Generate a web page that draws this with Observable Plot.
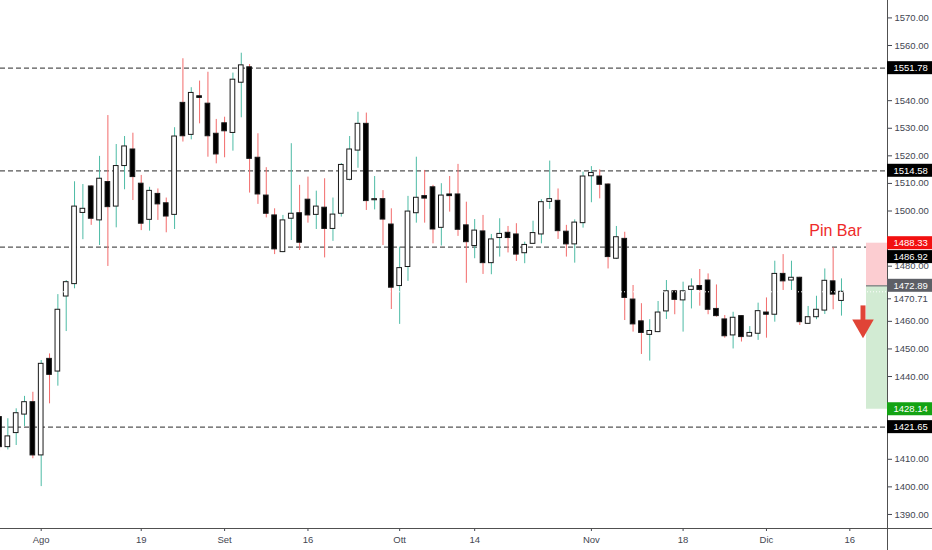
<!DOCTYPE html>
<html><head><meta charset="utf-8">
<script src="https://cdn.jsdelivr.net/npm/d3@7"></script>
<script src="https://cdn.jsdelivr.net/npm/@observablehq/plot@0.6"></script>
<style>body{margin:0;background:#fff}</style>
</head><body><div id="chart"></div>
<script>
// Daily candles, 25 Jul 2019 – 13 Dec 2019 (trading days)
const open = [1425.3,1414.4,1419.5,1426.2,1430.7,1411.4,1446.4,1441.8,1469.0,1473.5,1499.3,1508.9,1496.6,1510.5,1501.6,1516.3,1522.3,1509.9,1496.8,1506.2,1502.8,1498.6,1539.2,1527.6,1541.6,1538.9,1528.0,1531.8,1528.3,1546.5,1552.1,1519.3,1505.6,1498.4,1485.1,1497.2,1499.2,1504.1,1498.6,1501.2,1493.5,1499.0,1511.3,1521.9,1531.6,1503.9,1504.3,1495.1,1472.8,1479.7,1499.2,1505.4,1508.6,1493.9,1506.0,1506.0,1494.8,1487.3,1492.6,1481.1,1490.2,1492.1,1491.5,1484.7,1488.1,1491.5,1503.3,1503.7,1492.5,1487.9,1495.6,1512.6,1512.5,1509.6,1482.7,1489.9,1467.9,1460.0,1455.1,1456.1,1463.6,1470.9,1467.6,1471.4,1472.8,1474.8,1464.5,1460.7,1454.9,1461.9,1454.5,1455.5,1463.2,1462.4,1477.2,1474.8,1475.8,1459.1,1461.5,1463.9,1474.5,1467.4];
const high = [1427.0,1424.7,1428.3,1432.8,1434.3,1445.8,1448.2,1469.7,1474.8,1510.6,1509.6,1509.2,1519.8,1534.6,1524.1,1527.0,1528.2,1512.9,1508.6,1508.0,1504.7,1530.2,1555.2,1544.7,1547.1,1550.3,1533.2,1534.0,1550.0,1557.2,1553.1,1528.0,1515.7,1500.8,1498.4,1524.4,1509.3,1512.3,1507.2,1511.7,1504.7,1517.2,1527.0,1535.8,1535.5,1512.5,1507.4,1500.8,1486.9,1505.3,1519.5,1514.7,1509.3,1509.9,1512.5,1516.9,1503.2,1496.9,1498.4,1491.5,1497.2,1494.4,1495.4,1488.7,1496.3,1504.1,1518.1,1508.0,1494.8,1496.8,1514.1,1516.1,1514.9,1509.9,1494.4,1492.3,1473.0,1466.4,1460.6,1467.2,1474.8,1471.2,1474.2,1475.4,1478.8,1477.2,1473.2,1462.1,1463.3,1462.1,1458.1,1466.6,1468.5,1481.8,1484.2,1481.8,1476.0,1465.4,1469.1,1479.0,1486.7,1475.4];
const low = [1412.9,1413.4,1415.0,1421.9,1410.2,1400.1,1430.1,1436.5,1456.3,1471.8,1489.6,1494.8,1487.5,1479.9,1493.9,1507.7,1503.8,1492.9,1492.7,1496.6,1492.1,1493.3,1525.0,1525.8,1531.6,1519.5,1517.1,1519.3,1521.7,1533.8,1506.5,1502.4,1497.5,1484.2,1484.9,1489.3,1485.7,1495.6,1493.3,1483.0,1489.0,1497.8,1510.9,1515.5,1500.2,1500.4,1487.5,1464.3,1458.9,1474.5,1495.6,1495.6,1488.1,1487.3,1499.6,1490.8,1473.8,1482.7,1477.0,1476.9,1483.3,1484.8,1481.7,1480.9,1487.9,1488.1,1500.6,1489.7,1483.3,1481.1,1493.8,1503.0,1504.4,1479.0,1482.4,1460.3,1456.1,1448.0,1445.6,1455.9,1460.7,1462.4,1456.1,1464.5,1465.5,1462.4,1461.5,1453.9,1450.0,1452.5,1454.3,1453.1,1453.9,1459.7,1471.2,1471.2,1458.5,1458.9,1460.6,1462.5,1464.2,1461.9];
const close = [1414.4,1418.3,1426.7,1430.7,1411.4,1444.6,1440.6,1464.2,1474.2,1501.6,1500.8,1497.2,1511.7,1501.4,1516.3,1523.4,1512.3,1495.4,1507.3,1502.4,1498.0,1527.0,1527.1,1542.8,1541.0,1527.1,1520.5,1528.9,1547.6,1552.8,1518.9,1506.0,1499.0,1486.1,1496.6,1499.0,1488.5,1498.4,1501.6,1493.5,1498.7,1516.7,1522.3,1531.6,1503.6,1504.3,1496.9,1472.2,1479.3,1499.8,1504.8,1504.5,1493.3,1505.6,1505.4,1493.2,1488.7,1492.9,1481.1,1489.7,1491.7,1490.2,1484.2,1487.7,1492.0,1503.2,1504.3,1492.7,1487.9,1495.8,1512.5,1513.8,1509.5,1483.3,1490.5,1468.5,1458.9,1455.8,1456.5,1463.2,1470.9,1467.8,1470.9,1472.6,1471.4,1464.2,1461.9,1454.6,1461.3,1454.3,1455.8,1463.7,1462.4,1477.2,1474.5,1475.8,1459.7,1461.5,1464.2,1474.7,1469.7,1470.71];

const tickDates = ["2019-08-01","2019-08-19","2019-09-02","2019-09-16","2019-10-01","2019-10-14","2019-11-01","2019-11-18","2019-12-02","2019-12-16"];
const tickLabels = ["Ago","19","Set","16","Ott","14","Nov","18","Dic","16"];
// round price ticks (those hidden behind the price tags are left out)
const priceTicks = [1390,1400,1410,1440,1450,1460,1480,1500,1510,1520,1530,1540,1560,1570];

const levels = [1551.78, 1514.58, 1486.92, 1421.65];
const stopLevel = 1488.33, entryLevel = 1472.89, targetLevel = 1428.14, lastPrice = 1470.71;
const annotation = "Pin Bar";

// trading-day calendar (weekdays)
const days = d3.utcDay.range(new Date(Date.UTC(2019,6,25)), new Date(Date.UTC(2019,11,20)))
  .filter(d => d.getUTCDay() % 6 !== 0);
const iso = d => d.toISOString().slice(0,10);
const candles = open.map((o,i) => ({i, date: days[i], open:o, high:high[i], low:low[i], close:close[i], up: close[i] >= o}));
const tickIdx = tickDates.map(t => days.findIndex(d => iso(d) === t));

// layout constants (pixels -> scale units)
const W = 932, H = 550, MR = 45, MB = 22;
const X0 = 0.118, X1 = 106.52;
const Y0 = 1384.91, Y1 = 1576.31;
const pxX = (X1 - X0) / (W - MR);      // index units per px
const pxY = (Y1 - Y0) / (H - MB);      // price per px
const XR = X1 + MR * pxX;              // right edge of svg
const YB = Y0 - MB * pxY;              // bottom edge of svg

const teal = "#4dbba5", red = "#f26b6b";

const tags = [
  {v: levels[0], bg: "#000", fg: "#fff", off: 0},
  {v: levels[1], bg: "#000", fg: "#fff", off: 0},
  {v: stopLevel, bg: "#f21010", fg: "#fff", off: 0},
  {v: levels[2], bg: "#000", fg: "#fff", off: 10},
  {v: entryLevel, bg: "#5d5f66", fg: "#fff", off: 0},
  {v: targetLevel, bg: "#14a314", fg: "#fff", off: 0},
  {v: levels[3], bg: "#000", fg: "#fff", off: 0}
].map(d => ({...d, pos: d.v - d.off * pxY}));
const lastTag = {v: lastPrice, pos: lastPrice - 7 * pxY};

const boxX1 = X0 + 866 * pxX;
const arrowX = X0 + 862.5 * pxX;
const textX = X0 + 835 * pxX;

const chart = Plot.plot({
  width: W, height: H,
  marginLeft: 0, marginRight: MR, marginTop: 0, marginBottom: MB,
  style: {fontFamily: "'Liberation Sans', Arial, sans-serif", fontSize: "9.5px", color: "#434651", background: "#fff"},
  x: {domain: [X0, X1]},
  y: {domain: [Y0, Y1]},
  marks: [
    Plot.axisX({ticks: tickIdx, tickFormat: d => tickLabels[tickIdx.indexOf(d)], tickSize: 3, tickPadding: 5, label: null, fontSize: 9.5}),
    Plot.axisY({anchor: "right", ticks: priceTicks, tickFormat: d => d.toFixed(2), tickSize: 4, tickPadding: 3, label: null, fontSize: 9.5}),
    Plot.ruleY(levels, {stroke: "#555", strokeDasharray: "5,3", strokeWidth: 1.2}),
    Plot.ruleX(candles, {x: "i", y1: "low", y2: "high", stroke: d => d.up ? teal : red, strokeWidth: 1}),
    Plot.rect(candles, {x1: d => d.i - 0.28, x2: d => d.i + 0.28, y1: "open", y2: "close",
      fill: d => d.up ? "#fff" : "#000", stroke: "#1a1a1a", strokeWidth: 1}),
    Plot.rect([0], {x1: boxX1, x2: X1, y1: entryLevel, y2: stopLevel, fill: "#fccdd1"}),
    Plot.rect([0], {x1: boxX1, x2: X1, y1: targetLevel, y2: entryLevel, fill: "#d2ebd3"}),
    Plot.ruleY([entryLevel], {x1: boxX1, x2: X1, stroke: "#8a8a8a", strokeWidth: 1.5}),
    Plot.ruleY([lastPrice], {stroke: "#fff", strokeDasharray: "1,2", strokeWidth: 1}),
    // down arrow: shaft + triangular head
    Plot.ruleX([arrowX], {y1: 1465.6, y2: 1459.0, stroke: "#e04436", strokeWidth: 5}),
    Plot.dot([0], {x: arrowX, y: 1458.4, symbol: "triangle", r: 8, rotate: 180, fill: "#e04436", stroke: "none"}),
    Plot.text([annotation], {x: textX, y: 1492.9, text: d => d, fill: "#ee2a2a", fontSize: 16, textAnchor: "middle"}),
    // frame lines
    Plot.ruleY([Y0], {x1: X0 - 1, x2: XR, stroke: "#505050", strokeWidth: 1}),
    Plot.ruleX([X1], {y1: Y1 + 1, y2: YB, stroke: "#505050", strokeWidth: 1}),
    // price tags
    Plot.rect(tags, {x1: X1, x2: XR, y1: "pos", y2: "pos", insetTop: -6.5, insetBottom: -6.5, fill: "bg"}),
    Plot.text(tags, {x: X1 + 6 * pxX, y: "pos", text: d => d.v.toFixed(2), fill: "fg", textAnchor: "start", fontSize: 9.5}),
    Plot.ruleY([lastTag], {y: "pos", x1: X1, x2: X1 + 4 * pxX, stroke: "#434651"}),
    Plot.text([lastTag], {x: X1 + 6 * pxX, y: "pos", text: d => d.v.toFixed(2), fill: "#434651", textAnchor: "start", fontSize: 9.5})
  ]
});
document.getElementById("chart").append(chart);
</script>
</body></html>
